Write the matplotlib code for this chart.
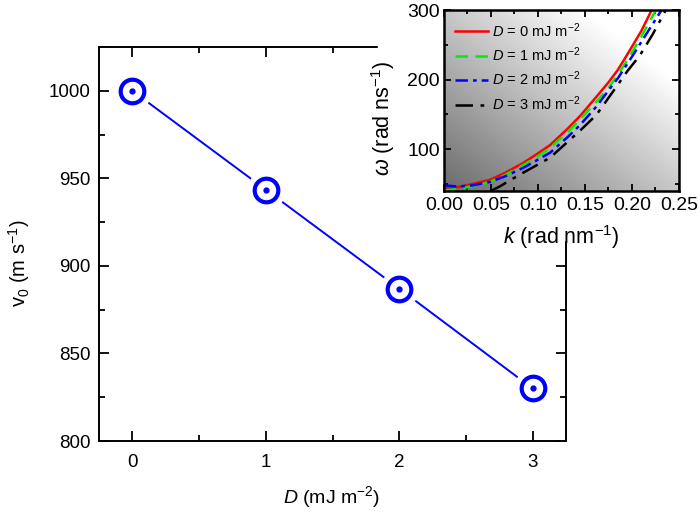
"""Drift velocity vs DMI strength, with spin-wave dispersion inset."""

import matplotlib
matplotlib.use("Agg")
import matplotlib.pyplot as plt
import numpy as np
from matplotlib.patches import Rectangle
from matplotlib.ticker import MultipleLocator

plt.rcParams["font.family"] = ["Liberation Sans", "DejaVu Sans"]
plt.rcParams["mathtext.fontset"] = "custom"
plt.rcParams["mathtext.rm"] = "Liberation Sans"
plt.rcParams["mathtext.it"] = "Liberation Sans:italic"

# main panel data
d_values = [0, 1, 2, 3]
v0 = [1000, 943.5, 887, 830]

# inset: dispersion curves
k_red = [0, 0.017, 0.03, 0.049, 0.065, 0.084, 0.10, 0.113, 0.132, 0.145,
         0.162, 0.175, 0.185, 0.195, 0.21, 0.221]
w_red = [44, 46, 50, 56, 66, 80, 94, 106, 130, 148, 175, 196, 214, 236, 270, 300]
k_green = [0, 0.017, 0.03, 0.049, 0.065, 0.084, 0.10, 0.113, 0.132, 0.145,
           0.162, 0.175, 0.185, 0.195, 0.21, 0.2255]
w_green = [41, 43, 47, 53, 63, 77, 90, 102, 125, 143, 168, 188, 207, 228, 262, 300]
k_blue = [0, 0.015, 0.03, 0.049, 0.065, 0.084, 0.10, 0.113, 0.132, 0.145,
          0.162, 0.177, 0.185, 0.201, 0.215, 0.2315]
w_blue = [48, 46.5, 48, 53, 61, 73, 85, 95, 118, 135, 161, 188, 202, 235, 265, 300]
k_black = [0.05, 0.06, 0.075, 0.084, 0.10, 0.113, 0.132, 0.145, 0.162,
           0.182, 0.195, 0.2085, 0.222, 0.236]
w_black = [40, 47, 59, 66, 78, 88, 111, 127, 149, 187, 212, 235, 265, 300]

curve_labels = [r"$D$ = 0 mJ m$^{-2}$", r"$D$ = 1 mJ m$^{-2}$",
                r"$D$ = 2 mJ m$^{-2}$", r"$D$ = 3 mJ m$^{-2}$"]

fig = plt.figure(figsize=(7, 5.14), dpi=100)

# ---- main axes ----
ax = fig.add_axes([0.1414, 0.142, 0.6672, 0.7666])
ax.plot(d_values, v0, color="blue", lw=1.4, zorder=2)
ax.plot(d_values, v0, ls="none", marker="o", ms=27, mfc="white",
        mec="white", zorder=3)
ax.plot(d_values, v0, ls="none", marker="o", ms=17, mfc="white",
        mec="blue", mew=3, zorder=4)
ax.plot(d_values, v0, ls="none", marker="o", ms=3.5, color="blue", zorder=5)

ax.set_xlim(-0.25, 3.25)
ax.set_ylim(800, 1025)
ax.xaxis.set_major_locator(MultipleLocator(1))
ax.xaxis.set_minor_locator(MultipleLocator(0.5))
ax.yaxis.set_major_locator(MultipleLocator(50))
ax.yaxis.set_minor_locator(MultipleLocator(25))
ax.tick_params(which="both", direction="in", top=True, right=True,
               labelsize=13.5, width=1.3)
ax.tick_params(which="major", length=7)
ax.tick_params(axis="x", pad=9)
ax.tick_params(axis="y", pad=6)
ax.tick_params(which="minor", length=4)
for s in ax.spines.values():
    s.set_linewidth(1.4)
ax.set_xlabel(r"$D$ (mJ m$^{-2}$)", fontsize=14)
ax.set_ylabel(r"v$_0$ (m s$^{-1}$)", fontsize=14.5)
ax.xaxis.set_label_coords(0.498, -0.11)
ax.yaxis.set_label_coords(-0.143, 0.452)

# white block behind the inset and its labels
fig.patches.append(Rectangle((378 / 700, 1 - 240 / 514), 1, 1,
                             transform=fig.transFigure, color="white",
                             zorder=1))

# ---- inset ----
ins = fig.add_axes([0.634, 0.6284, 0.336, 0.3521], zorder=2)
xx, yy = np.meshgrid(np.linspace(0, 1, 200), np.linspace(0, 1, 200))
shade = 0.42 + 0.58 * np.clip((xx + yy) / 1.6, 0, 1)
ins.imshow(shade, cmap="gray", vmin=0, vmax=1, origin="lower",
           extent=[0, 1, 0, 1], transform=ins.transAxes, aspect="auto",
           zorder=0)

ins.plot(k_red, w_red, color="red", lw=1.8, label=curve_labels[0])
ins.plot(k_green, w_green, color="#00ee00", lw=1.8, ls=(0, (5, 3)),
         label=curve_labels[1])
ins.plot(k_blue, w_blue, color="blue", lw=1.8, ls=(0, (5, 2, 1.5, 2)),
         label=curve_labels[2])
ins.plot(k_black, w_black, color="black", lw=1.8, ls=(0, (7, 3, 1.5, 3)),
         label=curve_labels[3])

ins.set_xlim(0, 0.25)
ins.set_ylim(40, 300)
ins.xaxis.set_major_locator(MultipleLocator(0.05))
ins.xaxis.set_minor_locator(MultipleLocator(0.025))
ins.yaxis.set_major_locator(MultipleLocator(100))
ins.yaxis.set_minor_locator(MultipleLocator(50))
ins.xaxis.set_major_formatter(lambda v, p: f"{v:.2f}")
ins.tick_params(which="both", direction="in", top=True, right=True,
                labelsize=14, width=1.3)
ins.tick_params(which="major", length=5)
ins.tick_params(axis="x", pad=4)
ins.tick_params(axis="y", pad=3)
ins.tick_params(which="minor", length=3)
for s in ins.spines.values():
    s.set_linewidth(1.8)
ins.set_xlabel(r"$k$ (rad nm$^{-1}$)", fontsize=15.5)
ins.set_ylabel(r"$\omega$ (rad ns$^{-1}$)", fontsize=15.5)
ins.xaxis.set_label_coords(0.5, -0.18)
ins.yaxis.set_label_coords(-0.2, 0.40)
ins.legend(loc="upper left", frameon=False, fontsize=10.5, handlelength=2.3,
           handletextpad=0.25, labelspacing=0.4, borderaxespad=0.35)

fig.savefig("out.png", dpi=100)
